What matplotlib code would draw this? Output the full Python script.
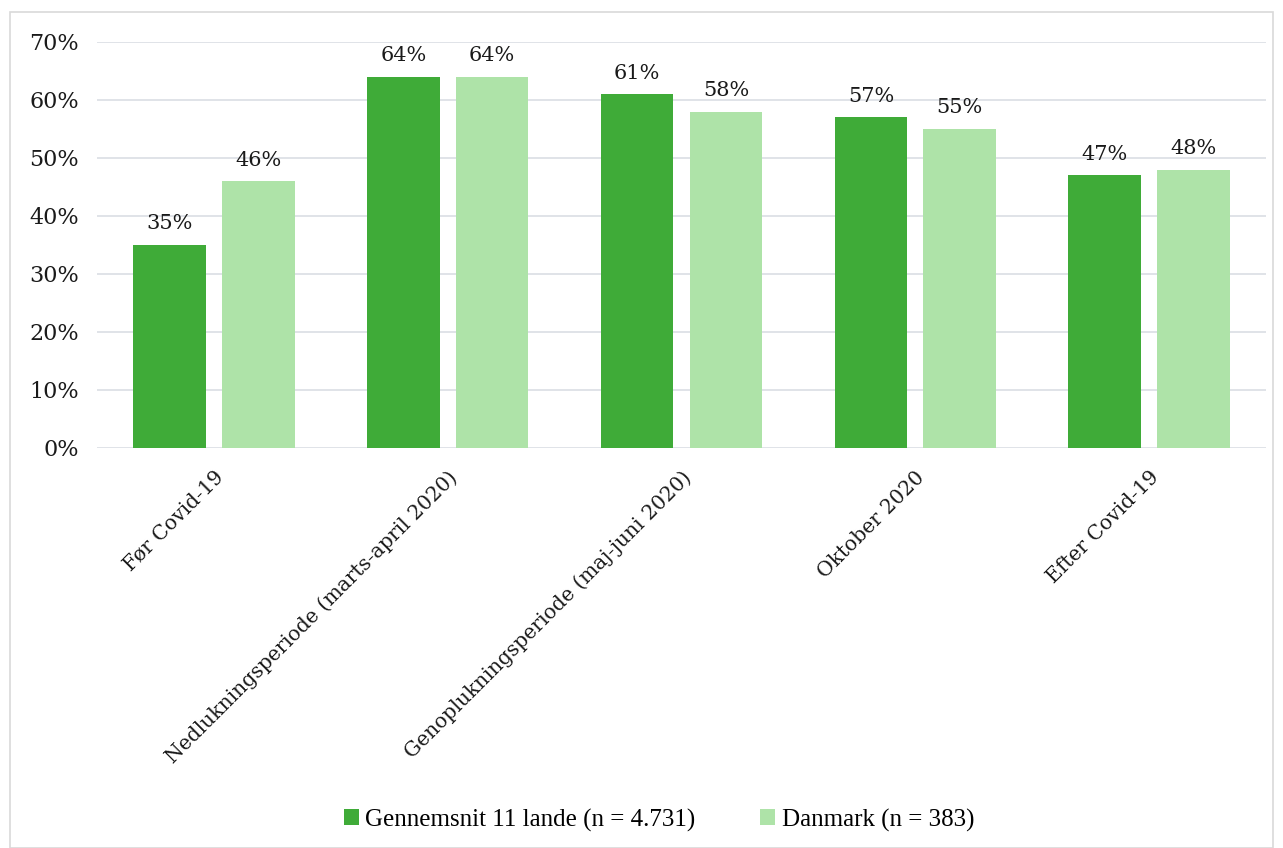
import numpy as np
import matplotlib.pyplot as plt
from matplotlib.patches import Rectangle

# ---------- DATA ----------
categories = [
    "Før Covid-19",
    "Nedlukningsperiode (marts-april 2020)",
    "Genoplukningsperiode (maj-juni 2020)",
    "Oktober 2020",
    "Efter Covid-19",
]
avg_11 = [35, 64, 61, 57, 47]
denmark = [46, 64, 58, 55, 48]
series_names = ["Gennemsnit 11 lande (n = 4.731)", "Danmark (n = 383)"]
yticks = [0, 10, 20, 30, 40, 50, 60, 70]

DARK = "#3fab38"
LIGHT = "#aee3a8"
GRID = "#dde0e6"
SERIF = "DejaVu Serif"

fig = plt.figure(figsize=(12.83, 8.48), dpi=100)
fig.patches.append(Rectangle((10 / 1283, 0), 1 - 20 / 1283, 1 - 12 / 848,
                             transform=fig.transFigure, fill=False,
                             edgecolor="#d9d9d9", linewidth=1.2))
ax = fig.add_axes([97 / 1283, 1 - 448 / 848, (1266 - 97) / 1283, (448 - 42) / 848])

x = np.arange(len(categories))
w = 0.31
off = 0.19
b1 = ax.bar(x - off, avg_11, w, color=DARK, zorder=3, label=series_names[0])
b2 = ax.bar(x + off, denmark, w, color=LIGHT, zorder=3, label=series_names[1])

for bars, vals in ((b1, avg_11), (b2, denmark)):
    for r, v in zip(bars, vals):
        ax.text(r.get_x() + r.get_width() / 2, v + 2.0, f"{v}%", ha="center",
                va="bottom", fontsize=15, family=SERIF, color="#1a1a1a")

ax.set_xlim(-0.5, len(categories) - 0.5)
ax.set_ylim(0, 70)
ax.set_yticks(yticks)
ax.set_yticklabels([f"{t}%" for t in yticks], fontsize=16, family=SERIF, color="#1a1a1a")
ax.set_xticks(x)
ax.set_xticklabels(categories, rotation=45, ha="right", rotation_mode="anchor",
                   fontsize=14.6, family=SERIF, color="#1a1a1a")
ax.tick_params(axis="both", length=0)
ax.tick_params(axis="y", pad=13)
ax.tick_params(axis="x", pad=14)
ax.grid(axis="y", color=GRID, linewidth=1.3, zorder=0)
for s in ax.spines.values():
    s.set_visible(False)

fig.legend(handles=[b1, b2], loc="center", bbox_to_anchor=(659 / 1283, 1 - 820 / 848),
           ncol=2, frameon=False, prop={"family": "Liberation Serif", "size": 18},
           handlelength=0.6, handleheight=0.6, handletextpad=0.25, columnspacing=2.6)

fig.savefig("out.png", dpi=100)
